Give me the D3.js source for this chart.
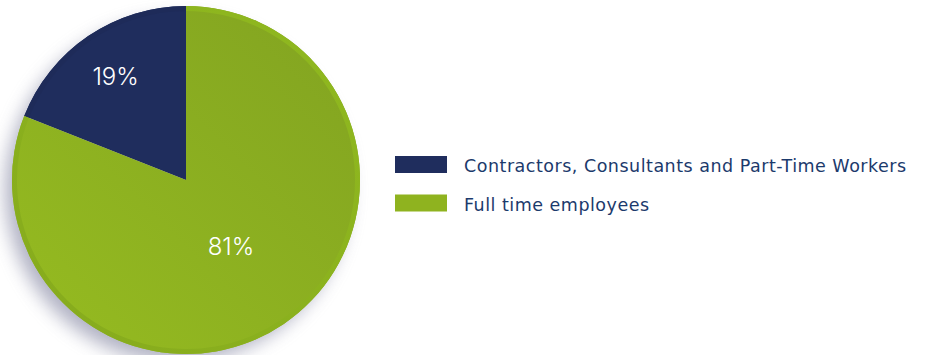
<!DOCTYPE html>
<html>
<head>
<meta charset="utf-8">
<script src="https://cdn.jsdelivr.net/npm/d3@7"></script>
<style>
  html, body { margin: 0; padding: 0; background: #ffffff; }
  svg { display: block; }
</style>
</head>
<body>
<svg id="chart" width="928" height="355"></svg>
<script>
// Workforce composition
const categories = ["Contractors, Consultants and Part-Time Workers", "Full time employees"];
const values = [19, 81];
const valueLabels = ["19%", "81%"];
const colors = ["#1f2d5d", "#8fb31f"];

const width = 928, height = 355;
const cx = 186, cy = 180, R = 174, rim = 5;

const svg = d3.select("#chart");
const defs = svg.append("defs");

// soft drop shadow, falling down and to the left
const blur = defs.append("filter").attr("id", "shadow")
  .attr("x", "-30%").attr("y", "-30%").attr("width", "160%").attr("height", "160%");
blur.append("feGaussianBlur").attr("stdDeviation", 9);

// body gradient of the green slice: darker top-right, lighter bottom-left
const gBody = defs.append("linearGradient").attr("id", "greenBody")
  .attr("x1", "1").attr("y1", "0").attr("x2", "0").attr("y2", "1");
gBody.append("stop").attr("offset", "0%").attr("stop-color", "#82a321");
gBody.append("stop").attr("offset", "100%").attr("stop-color", "#96bc20");

// rim gradient runs the other way, giving a slight bevel
const gRim = defs.append("linearGradient").attr("id", "greenRim")
  .attr("x1", "1").attr("y1", "0").attr("x2", "0").attr("y2", "1");
gRim.append("stop").attr("offset", "0%").attr("stop-color", "#90b91f");
gRim.append("stop").attr("offset", "100%").attr("stop-color", "#86aa1d");

const fills = ["#1f2d5d", "url(#greenBody)"];
const rimFills = ["#1e2b59", "url(#greenRim)"];

const total = d3.sum(values);
const start = -2 * Math.PI * values[0] / total;
const pie = d3.pie().sort(null).value(d => d)
  .startAngle(start).endAngle(start + 2 * Math.PI);
const arcs = pie(values);

const g = svg.append("g").attr("transform", `translate(${cx},${cy})`);

g.append("circle")
  .attr("cx", -9).attr("cy", 10).attr("r", R - 2)
  .attr("fill", "#7d7f9c").attr("opacity", 0.6)
  .attr("filter", "url(#shadow)");

const fullArc = d3.arc().innerRadius(0).outerRadius(R);
const rimArc = d3.arc().innerRadius(R - rim).outerRadius(R);

g.selectAll("path.slice").data(arcs).join("path")
  .attr("class", "slice")
  .attr("d", fullArc)
  .attr("fill", (d, i) => fills[i]);

g.selectAll("path.rim").data(arcs).join("path")
  .attr("class", "rim")
  .attr("d", rimArc)
  .attr("fill", (d, i) => rimFills[i]);

// value labels, the small slice labelled near its edge, the large one nearer the middle
const labelRadius = d => (d.endAngle - d.startAngle) < Math.PI ? R * 0.72 : R * 0.46;
g.selectAll("text.value").data(arcs).join("text")
  .attr("class", "value")
  .attr("transform", d => {
    const r = labelRadius(d);
    const c = d3.arc().innerRadius(r).outerRadius(r).centroid(d);
    return `translate(${c[0]},${c[1]})`;
  })
  .attr("text-anchor", "middle")
  .attr("dy", "0.35em")
  .attr("fill", "#ffffff")
  .attr("font-family", "Inter, 'Open Sans', sans-serif")
  .attr("font-size", 24)
  .attr("font-weight", 300)
  .text((d, i) => valueLabels[i]);

// legend
const legend = svg.append("g").attr("transform", "translate(395,156)");
const item = legend.selectAll("g").data(categories).join("g")
  .attr("transform", (d, i) => `translate(0,${i * 38.5})`);
item.append("rect")
  .attr("width", 52).attr("height", 17)
  .attr("fill", (d, i) => colors[i]);
item.append("text")
  .attr("x", 69).attr("y", 16)
  .attr("fill", "#1c3a6c")
  .attr("font-family", "'DejaVu Sans', sans-serif")
  .attr("font-size", 17.5)
  .attr("letter-spacing", 0.5)
  .text(d => d);
</script>
</body>
</html>
